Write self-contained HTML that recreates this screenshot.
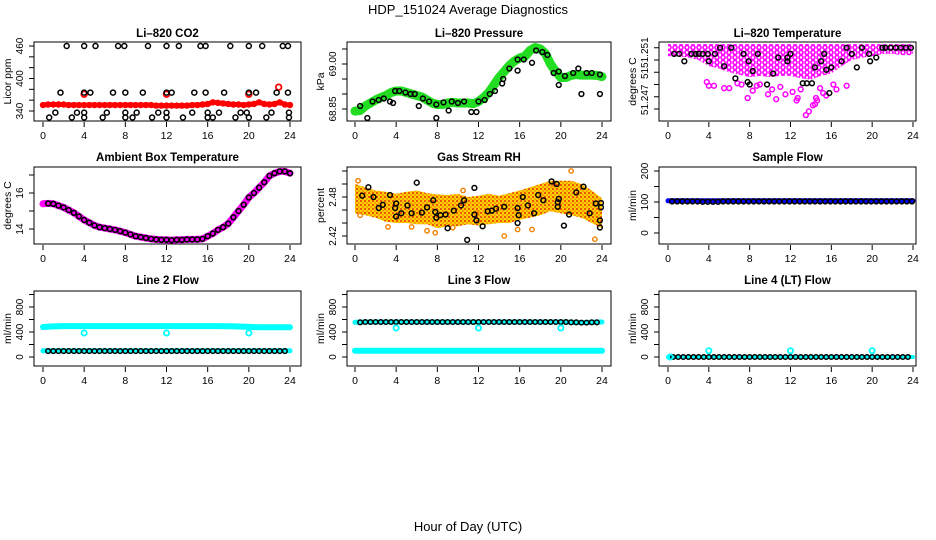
<!DOCTYPE html>
<html><head><meta charset="utf-8"><title>HDP_151024 Average Diagnostics</title>
<style>
html,body{margin:0;padding:0;background:#fff;}
svg{display:block;font-family:"Liberation Sans",Arial,sans-serif;}
</style></head>
<body>
<svg id="fig" width="936" height="540" viewBox="0 0 936 540" xmlns="http://www.w3.org/2000/svg">
<defs>
<pattern id="rhPat" width="4" height="4" patternUnits="userSpaceOnUse"><rect width="4" height="4" fill="#ffd000"/><circle cx="1" cy="1" r="1" fill="#e83000"/><circle cx="3" cy="3" r="0.8" fill="#f07000"/></pattern>
<pattern id="magPat" width="6" height="5" patternUnits="userSpaceOnUse"><rect width="6" height="5" fill="#fff"/><circle cx="3" cy="2.5" r="2" fill="none" stroke="#ff00ff" stroke-width="1.6"/></pattern>
</defs>
<rect width="936" height="540" fill="#fff"/>
<text x="468" y="14" text-anchor="middle" font-size="13">HDP_151024  Average Diagnostics</text>
<text x="468" y="531" text-anchor="middle" font-size="13">Hour of Day (UTC)</text>
</svg>
<script>
// ---------- data ----------
const xTicks = [0,4,8,12,16,20,24];
// CO2
const co2Red = [351,352,352,352,352,351,351,351,351,351,
 351,351,351,351,351,351,351,351,351,351,
 351,351,350,350,350,350,350,350,350,351,
 351,352,353,356,355,354,353,352,352,351,
 352,353,356,353,352,353,356,352,351];
const co2RedXHours = [4,12,20,22.9];
const co2RedXVals = [371,371,371,384];
const co2BlackHours = [2.3,4,5.1,7.3,7.9,10.2,12,13.2,15.3,15.8,18.2,20,21.3,23.3,23.8,
 1.7,4,4.6,6.8,8,9.7,12,12.5,14.7,15.8,17.6,20,20.7,22.7,23.8,
 1.2,3.3,4,6.2,8,9.1,11.2,12,14.5,16,17.1,19.2,19.8,22.2,23.9,
 0.6,2.8,4,5.8,8,8.7,10.6,12,13.6,16,16.5,18.7,20,21.7,23.9];
const co2BlackVals = [460,460,460,460,460,460,460,460,460,460,460,460,460,460,460,
 374,374,374,374,374,374,374,374,374,374,374,374,374,374,374,
 337,337,337,337,337,337,337,337,337,337,337,337,337,337,337,
 328,328,328,328,328,328,328,328,328,328,328,328,328,328,328];
// Pressure
const presGreen = [68.843,68.845,68.86,68.87,68.88,68.888,68.895,68.905,68.91,68.91,
 68.905,68.9,68.895,68.89,68.88,68.87,68.865,68.865,68.87,68.872,
 68.87,68.87,68.87,68.868,68.875,68.888,68.905,68.93,68.955,68.975,
 68.995,69.01,69.02,69.025,69.045,69.055,69.05,69.035,69.0,68.975,
 68.955,68.955,68.962,68.965,68.963,68.963,68.963,68.962,68.958];
const presBlackHours = [0.5,1.2,1.7,2.3,2.8,3.4,3.7,3.9,4.3,4.9,5.4,5.8,6.2,6.6,7.2,7.9,7.9,8.6,9.1,9.4,10,10.6,11.3,11.8,12,12.6,13.1,13.6,14.3,14.4,15,15.8,15.8,16.4,17.2,17.6,18.2,18.7,19.3,19.8,19.8,20.4,21.2,21.7,22,22.5,23,23.8,23.8];
const presBlackVals = [68.86,68.82,68.875,68.88,68.885,68.875,68.87,68.91,68.91,68.905,68.9,68.9,68.86,68.885,68.875,68.865,68.82,68.872,68.845,68.875,68.87,68.875,68.84,68.84,68.875,68.88,68.9,68.91,68.935,68.95,68.985,69.015,68.978,69.015,69.004,69.045,69.04,69.03,68.97,68.975,68.93,68.96,68.97,68.985,68.90,68.97,68.97,68.965,68.90];
// Li-820 temperature
const tempBandBottom = [51.2513,51.2513,51.2512,51.2510,51.2505,51.2503,51.2500,51.2498,51.2496,51.2497,51.2496,51.2497,51.2497,51.2495,51.2494,51.2497,51.2499,51.2505,51.2510,51.2512,51.2513,51.2515,51.2515,51.2514,51.2514];
const tempBandTop = 51.2523;
const tempMagHours = [13.5,13.8,14.2,14.4,14.6,14.5,12.6,12.7,10.6,7.8,9.8,11.5,5.5,6,8.3,16.5,17.5,4,4.5,3.8,15.2,15.5,9,11,13,6.8,8.7,16.2,14.9,10.2,12.2,7.2];
const tempMagVals = [51.2465,51.2468,51.2473,51.2474,51.2477,51.2479,51.2477,51.2479,51.2478,51.2479,51.2482,51.2482,51.2487,51.2487,51.2485,51.2486,51.2489,51.2489,51.2489,51.2492,51.2483,51.2481,51.2490,51.2488,51.2486,51.2491,51.2489,51.2490,51.2487,51.2486,51.2484,51.2490];
const tempBlackHours = [0.6,1.1,1.6,2.3,2.7,3.0,3.4,3.9,4,4.6,5.1,5.5,6.2,6.6,7.4,7.9,7.8,8,8.3,8.8,9.7,10.3,10.8,11.7,11.7,12,13.2,13.6,14.1,14.4,15,15.3,15.5,15.8,16,17,17.5,18,18.5,19,19.8,19.7,20.4,21,21.3,21.8,22.3,22.8,23.3,23.8];
const tempBlackVals = [51.2515,51.2515,51.2509,51.2515,51.2515,51.2515,51.2515,51.2515,51.2509,51.2515,51.2520,51.2505,51.2520,51.2495,51.2515,51.2509,51.2492,51.2490,51.2501,51.2515,51.2490,51.2499,51.2512,51.2512,51.2509,51.2515,51.2491,51.2491,51.2491,51.2504,51.2509,51.2515,51.2502,51.2483,51.2504,51.2509,51.2520,51.2515,51.2504,51.2520,51.2509,51.2515,51.2512,51.2520,51.2520,51.2520,51.2520,51.2520,51.2520,51.2520];
// Ambient box temperature
const ambient = [15.4,15.42,15.4,15.3,15.2,15.05,14.9,14.7,14.5,14.35,
 14.2,14.1,14.05,14.0,13.95,13.88,13.8,13.7,13.6,13.55,
 13.5,13.45,13.42,13.4,13.4,13.38,13.4,13.4,13.42,13.42,
 13.42,13.45,13.6,13.75,13.95,14.1,14.3,14.65,15.0,15.35,
 15.75,16.0,16.3,16.6,16.95,17.1,17.2,17.2,17.1];
// Gas stream RH
const rhUpper = [2.500,2.495,2.490,2.488,2.485,2.488,2.490,2.486,2.484,2.483,2.485,2.480,2.482,2.485,2.482,2.486,2.490,2.495,2.500,2.505,2.505,2.505,2.500,2.490,2.478];
const rhLower = [2.455,2.452,2.448,2.442,2.440,2.440,2.438,2.438,2.432,2.435,2.435,2.438,2.436,2.438,2.440,2.440,2.445,2.448,2.452,2.458,2.455,2.452,2.448,2.440,2.432];
const rhOrangeHours = [0.5,5.5,7,7.8,9.5,11.8,14.5,15.8,19.3,21,23.3,0.3,3.2,10.5,17.2];
const rhOrangeVals = [2.452,2.434,2.428,2.425,2.433,2.455,2.420,2.430,2.500,2.520,2.415,2.505,2.434,2.49,2.43];
const rhBlackHours = [0.7,1.3,1.8,2.3,2.7,3.4,3.9,4,4,4.5,5.1,5.5,6,6.5,7,7.6,7.8,7.9,8.3,8.8,9,9.6,10.3,10.6,10.9,11.6,11.8,11.6,12.4,12.9,13.3,13.7,14.5,15.8,15.9,15.8,16.3,16.8,17.4,17.8,18.3,19.1,19.6,19.7,19.7,19.8,20.3,20.8,21.5,22.2,22.8,23.4,23.8,23.8,23.9,23.9];
const rhBlackVals = [2.482,2.495,2.48,2.463,2.468,2.483,2.463,2.45,2.47,2.455,2.467,2.455,2.502,2.456,2.464,2.475,2.457,2.448,2.452,2.453,2.432,2.459,2.467,2.475,2.414,2.453,2.444,2.494,2.435,2.458,2.459,2.462,2.465,2.463,2.452,2.44,2.48,2.467,2.455,2.483,2.475,2.504,2.5,2.472,2.465,2.477,2.436,2.453,2.487,2.496,2.455,2.47,2.444,2.433,2.464,2.471];
// Sample flow (hourly)
const sampleBlue = [104,104,104,104,104,104,104,104,104,104,104,104,104,104,104,104,104,104,104,104,104,104,104,104,104];
const sampleBlack = [102,102,102,101,101,102,102,102,102,102,102,102,102,102,102,102,102,102,102,102,102,102,102,102,102];
// Line 2 flow (hourly)
const line2Upper = [480,490,495,495,495,495,495,495,495,495,495,495,495,495,495,495,495,495,492,488,482,475,475,475,475];
const line2LowerCyan = [100,100,100,100,100,100,100,100,100,100,100,100,100,100,100,100,100,100,100,100,100,100,100,100,100];
const line2Black = [95,95,95,95,95,95,95,95,95,95,95,95,95,95,95,95,95,95,95,95,95,95,95,95,95];
const flowOutHours = [4,12,20];
const line2OutVals = [384,384,384];
// Line 3 flow
const line3Black = [555,560,560,560,560,560,560,560,560,560,560,560,560,560,560,560,560,560,560,560,560,555,550,555,560];
const line3Cyan = [100,100,100,100,100,100,100,100,100,100,100,100,100,100,100,100,100,100,100,100,100,100,100,100,100];
const line3OutVals = [464,464,464];
// Line 4 flow
const line4Black = [0,0,0,0,0,0,0,0,0,0,0,0,0,0,0,0,0,0,0,0,0,0,0,0,0];
const line4OutHours = [0.2,4,12,20];
const line4OutVals = [0,100,100,100];

// ---------- layout ----------
const NS = "http://www.w3.org/2000/svg";
const svg = document.getElementById("fig");
const boxL = [34,347,659], boxR = [301,611,916];
const x0p = [43,355,668], x24p = [290,602,913];
const boxT = [42,167,291], boxB = [121,244,366];
const titleY = [37,161,284];

function mk(tag, attrs, parent){
  const e = document.createElementNS(NS, tag);
  for (const k in attrs) e.setAttribute(k, attrs[k]);
  (parent||svg).appendChild(e);
  return e;
}

function makePanel(id, col, row, title, ylab, v1, p1, v2, p2, ticks, labVals, labTexts){
  const g = mk("g", {});
  
  
  const sx = h => x0p[col] + h*(x24p[col]-x0p[col])/24;
  const sy = v => p1 + (v-v1)*(p2-p1)/(v2-v1);
  const L=boxL[col], R=boxR[col], T=boxT[row], B=boxB[row];
  const cp = mk("clipPath", {id:"clip-"+id}, g);
  mk("rect", {x:L, y:T, width:R-L, height:B-T}, cp);
  const t = mk("text", {x:(L+R)/2, y:titleY[row], "text-anchor":"middle", "font-size":"11.5", "font-weight":"bold"}, g);
  t.textContent = title;
  
  
  const xa = mk("g", {}, g);
  
  
  xTicks.forEach(h=>{
    mk("line", {x1:sx(h), x2:sx(h), y1:B+1, y2:B+6, stroke:"#000", "stroke-width":1}, xa);
    const tx = mk("text", {x:sx(h), y:B+18, "text-anchor":"middle", "font-size":"10.5"}, xa);
    tx.textContent = h;
  });
  const ya = mk("g", {}, g);
  
  
  ticks.forEach(v=>{
    mk("line", {x1:L-5, x2:L, y1:sy(v), y2:sy(v), stroke:"#000", "stroke-width":1}, ya);
  });
  labVals.forEach((v,i)=>{
    const yy = sy(v), xx = L-11;
    const tx = mk("text", {x:xx, y:yy, transform:`rotate(-90 ${xx} ${yy})`, "text-anchor":"middle", "font-size":"10"}, ya);
    tx.textContent = labTexts[i];
  });
  const yl = mk("text", {x:L-23, y:(T+B)/2, transform:`rotate(-90 ${L-23} ${(T+B)/2})`, "text-anchor":"middle", "font-size":"10.5"}, g);
  yl.textContent = ylab;
  
  
  const plot = mk("g", {"clip-path":`url(#clip-${id})`}, g);
  
  
  const box = mk("rect", {x:L, y:T, width:R-L, height:B-T, fill:"none", stroke:"#000", "stroke-width":1}, g);
  
  
  g.appendChild(box);
  return {sx, sy, plot};
}

function pts(P, hours, vals, color, name, r, sw){
  const g = mk("g", {}, P.plot);
  
  
  vals.forEach((v,i)=>{
    if (v===null) return;
    const c = mk("circle", {cx:P.sx(hours[i]), cy:P.sy(v), r:r||2.4, fill:"none", stroke:color, "stroke-width":sw||1.4}, g);
    
    
  });
}
function band(P, vals, step, color, width, name, start){
  const s = start||0;
  const d = vals.map((v,i)=>(i?"L":"M")+P.sx(s+i*step).toFixed(1)+","+P.sy(v).toFixed(1)).join(" ");
  const p = mk("path", {d, fill:"none", stroke:color, "stroke-width":width, "stroke-linecap":"round", "stroke-linejoin":"round"}, P.plot);
  
  
}
function area(P, upper, lower, step, fill, name){
  let d = upper.map((v,i)=>(i?"L":"M")+P.sx(i*step).toFixed(1)+","+P.sy(v).toFixed(1)).join(" ");
  for (let i=lower.length-1;i>=0;i--) d += " L"+P.sx(i*step).toFixed(1)+","+P.sy(lower[i]).toFixed(1);
  const p = mk("path", {d:d+" Z", fill, stroke:"none"}, P.plot);
  
  
}
const halfH = a => a.map((_,i)=>i*0.5);
const fullH = a => a.map((_,i)=>i);

const P1 = makePanel("co2",0,0,"Li\u2013820 CO2","Licor ppm",340,111,460,46,[340,360,380,400,420,440,460],[340,400,460],["340","400","460"]);
band(P1, co2Red, 0.5, "#ff0000", 5, "co2-red-band");
pts(P1, halfH(co2Red), co2Red, "#ff0000", "co2-red", 2.4, 1.6);
pts(P1, co2RedXHours, co2RedXVals, "#ff0000", "co2-red-extra", 2.8, 1.8);
pts(P1, co2BlackHours, co2BlackVals, "#000", "co2-black", 2.5, 1.5);

const P2 = makePanel("pressure",1,0,"Li\u2013820 Pressure","kPa",68.85,109,69.00,64,[68.85,68.90,68.95,69.00,69.05],[68.85,69.00],["68.85","69.00"]);
band(P2, presGreen, 0.5, "#22dd22", 9, "pressure-green-band");
pts(P2, presBlackHours, presBlackVals, "#000", "pressure-black", 2.4, 1.5);

const P3 = makePanel("li820-temp",2,0,"Li\u2013820 Temperature","degrees C",51.247,109,51.251,60,[51.247,51.248,51.249,51.25,51.251,51.252],[51.24775,51.2499,51.2516],["51.247","51","51.251"]);
area(P3, tempBandBottom.map(()=>tempBandTop), tempBandBottom, 1, "url(#magPat)", "temp-magenta-cloud");
pts(P3, tempMagHours, tempMagVals, "#ff00ff", "temp-magenta", 2.4, 1.5);
pts(P3, tempBlackHours, tempBlackVals, "#000", "temp-black", 2.4, 1.5);

const P4 = makePanel("ambient",0,1,"Ambient Box Temperature","degrees C",14,229,16,193,[14,15,16,17],[14,16],["14","16"]);
band(P4, ambient, 0.5, "#ff00ff", 7, "ambient-magenta-band");
pts(P4, halfH(ambient).slice(1), ambient.slice(1), "#000", "ambient-black", 2.4, 1.6);

const P5 = makePanel("rh",1,1,"Gas Stream RH","percent",2.42,236,2.48,197,[2.42,2.44,2.46,2.48,2.50,2.52],[2.42,2.48],["2.42","2.48"]);
area(P5, rhUpper, rhLower, 1, "url(#rhPat)", "rh-orange-cloud");
pts(P5, rhOrangeHours, rhOrangeVals, "#f08000", "rh-orange", 2.2, 1.4);
pts(P5, rhBlackHours, rhBlackVals, "#000", "rh-black", 2.4, 1.5);

const P6 = makePanel("sample-flow",2,1,"Sample Flow","ml/min",0,233,200,171,[0,50,100,150,200],[0,100,200],["0","100","200"]);
band(P6, sampleBlue, 1, "#0000ff", 5, "sample-blue-band");
pts(P6, fullH(sampleBlack).map(h=>h+0.4).slice(0,24), sampleBlack.slice(0,24), "#000", "sample-black", 2.4, 1.6);
pts(P6, fullH(sampleBlack).map(h=>h+0.9).slice(0,24), sampleBlack.slice(0,24), "#000", "sample-black-b", 2.4, 1.6);

const P7 = makePanel("line2",0,2,"Line 2 Flow","ml/min",0,357,800,307,[0,200,400,600,800,1000],[0,400,800],["0","400","800"]);
band(P7, line2Upper, 1, "#00ffff", 6, "line2-cyan-upper");
band(P7, line2LowerCyan, 1, "#00ffff", 5, "line2-cyan-lower");
pts(P7, fullH(line2Black).map(h=>h+0.5).slice(0,24), line2Black.slice(0,24), "#000", "line2-black", 2.3, 1.5);
pts(P7, fullH(line2Black).map(h=>h+1).slice(0,23), line2Black.slice(0,23), "#000", "line2-black-b", 2.3, 1.5);
pts(P7, flowOutHours, line2OutVals, "#00ffff", "line2-cyan-outlier", 2.6, 1.8);

const P8 = makePanel("line3",1,2,"Line 3 Flow","ml/min",0,357,800,307,[0,200,400,600,800,1000],[0,400,800],["0","400","800"]);
band(P8, line3Cyan, 1, "#00ffff", 6, "line3-cyan-lower");
band(P8, line3Black, 1, "#00ffff", 5, "line3-cyan-upper");
pts(P8, fullH(line3Black).map(h=>h+0.5).slice(0,24), line3Black.slice(0,24), "#000", "line3-black", 2.3, 1.5);
pts(P8, fullH(line3Black).map(h=>h+1).slice(0,23), line3Black.slice(1,24), "#000", "line3-black-b", 2.3, 1.5);
pts(P8, flowOutHours, line3OutVals, "#00ffff", "line3-cyan-outlier", 2.6, 1.8);

const P9 = makePanel("line4",2,2,"Line 4 (LT) Flow","ml/min",0,357,800,307,[0,200,400,600,800,1000],[0,400,800],["0","400","800"]);
band(P9, line4Black, 1, "#00ffff", 4, "line4-cyan-band");
pts(P9, fullH(line4Black).map(h=>h+0.5).slice(0,24), line4Black.slice(0,24), "#000", "line4-black", 2.3, 1.5);
pts(P9, fullH(line4Black).map(h=>h+1).slice(0,23), line4Black.slice(0,23), "#000", "line4-black-b", 2.3, 1.5);
pts(P9, line4OutHours, line4OutVals, "#00ffff", "line4-cyan-outlier", 2.6, 1.8);
</script>
</body></html>
